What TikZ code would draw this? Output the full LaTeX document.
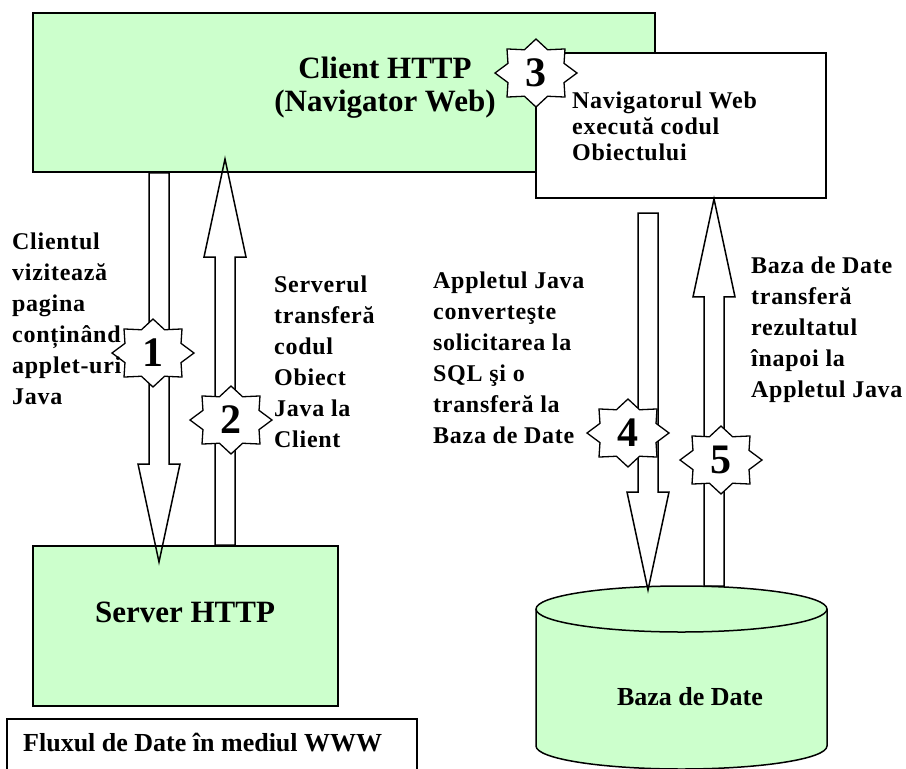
\documentclass[tikz,border=0pt]{standalone}
\usepackage{fontspec}
\setmainfont{Liberation Serif}
\newfontfamily\wideserif{Liberation Serif}[LetterSpace=3.0]
\usepackage{tikz}
\usetikzlibrary{calc}

\definecolor{boxgreen}{HTML}{CCFFCC}

% hollow block arrow: tail coordinate, tip coordinate
\newcommand{\hollowarrow}[2]{%
  \coordinate (hb) at ($(#2)!98pt!(#1)$);
  \draw[hollow] ($(#1)+(-10pt,0)$) -- ($(hb)+(-10pt,0)$) -- ($(hb)+(-21pt,0)$) -- (#2)
    -- ($(hb)+(21pt,0)$) -- ($(hb)+(10pt,0)$) -- ($(#1)+(10pt,0)$) -- cycle;
}

% eight-pointed star with a number: name, centre, number
\newcommand{\numstar}[3]{%
  \begin{scope}[shift={(#2)}]
    \filldraw[starline] plot[samples at={0,22.5,...,337.5}]
      ({41*(0.74+0.13*(1+cos(8*\x)))*cos(\x)}, {34*(0.74+0.13*(1+cos(8*\x)))*sin(\x)}) -- cycle;
  \end{scope}
  \node[digit] (#1) at (#2) {#3};
}

\begin{document}
\begin{tikzpicture}[x=1pt, y=-1pt,
    greenbox/.style={draw, line width=1.8pt, fill=boxgreen, inner sep=0pt},
    whitebox/.style={draw, line width=1.8pt, fill=white, inner sep=0pt},
    hollow/.style={line width=1.5pt, line join=miter},
    starline/.style={line width=1.3pt, fill=white},
    digit/.style={font=\bfseries\fontsize{42}{42}\selectfont, inner sep=0pt},
    bigtext/.style={font=\bfseries\fontsize{31}{33}\selectfont, align=center, inner sep=0pt},
    steptext/.style={font=\wideserif\bfseries\fontsize{24}{31}\selectfont, align=left, inner sep=0pt, anchor=north west},
    labeltext/.style={font=\bfseries\fontsize{26}{28}\selectfont, inner sep=0pt}]
  \useasboundingbox (0,0) rectangle (906,769);

  % Draw the boxes
  \node[greenbox, minimum width=622pt, minimum height=159pt] (client) at (344,92.5) {};
  \node[whitebox, minimum width=290pt, minimum height=145pt] (nav) at (681,125.5) {};
  \node[greenbox, minimum width=305pt, minimum height=160pt] (server) at (185.5,626) {};
  \node[whitebox, minimum width=410pt, minimum height=71pt] (capbox) at (212,754.5) {};

  % Draw the database cylinder
  \coordinate (dbleft) at (536,609);
  \filldraw[line width=1.5pt, fill=boxgreen] (dbleft) -- ++(0,137)
    arc[start angle=180, end angle=360, x radius=145.5pt, y radius=23pt] -- ++(0,-137)
    arc[start angle=0, end angle=180, x radius=145.5pt, y radius=23pt] -- cycle;
  \draw[line width=1.5pt] (dbleft) arc[start angle=180, end angle=360, x radius=145.5pt, y radius=23pt];

  % Arrow end points
  \coordinate (a1tip) at (159,562);
  \coordinate (a1tail) at (client.south -| a1tip);
  \coordinate (a2tip) at (225,159);
  \coordinate (a2tail) at (server.north -| a2tip);
  \coordinate (a4tail) at (648,213);
  \coordinate (a4tip) at (648,590);
  \coordinate (a5tail) at (714,586);
  \coordinate (a5tip) at (nav.south -| a5tail);

  % Draw the block arrows
  \hollowarrow{a1tail}{a1tip}
  \hollowarrow{a2tail}{a2tip}
  \hollowarrow{a4tail}{a4tip}
  \hollowarrow{a5tail}{a5tip}

  % Draw the numbered stars
  \numstar{s1}{153,353}{1}
  \numstar{s2}{231,420}{2}
  \numstar{s3}{536,73}{3}
  \numstar{s4}{628,433}{4}
  \numstar{s5}{721,460}{5}

  % Box labels
  \node[bigtext] (clientlbl) at (385,88) {Client HTTP\\(Navigator Web)};
  \node[bigtext] (serverlbl) at (185,612) {Server HTTP};
  \node[labeltext] (dblbl) at (690,697) {Baza de Date};
  \node[labeltext, anchor=west] (caption) at (23,743) {Fluxul de Date în mediul WWW};
  \node[steptext, font=\wideserif\bfseries\fontsize{24}{26}\selectfont] (navlbl) at (572,92)
    {Navigatorul Web\\execută codul\\Obiectului};

  % Step descriptions
  \node[steptext] (step1) at (12,233) {Clientul\\vizitează\\pagina\\conținând\\applet-uri\\Java};
  \node[steptext] (step2) at (274,276) {Serverul\\transferă\\codul\\Obiect\\Java la\\Client};
  \node[steptext] (step4) at (433,272) {Appletul Java\\converteşte\\solicitarea la\\SQL şi o\\transferă la\\Baza de Date};
  \node[steptext] (step5) at (751,257) {Baza de Date\\transferă\\rezultatul\\înapoi la\\Appletul Java};
\end{tikzpicture}
\end{document}
